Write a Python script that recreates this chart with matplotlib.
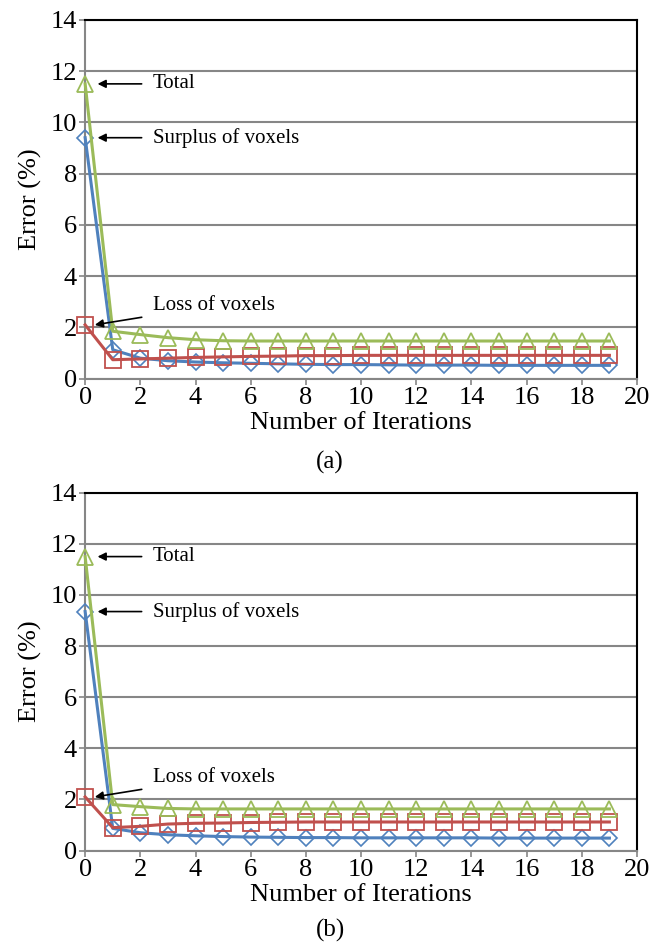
import matplotlib
matplotlib.use('Agg')
import matplotlib.pyplot as plt

# --- donnees ---
iterations = list(range(20))

# panneau (a)
total_a   = [11.5, 1.85, 1.72, 1.6, 1.52, 1.48, 1.47, 1.47, 1.47, 1.47,
             1.47, 1.47, 1.47, 1.47, 1.47, 1.47, 1.47, 1.47, 1.47, 1.47]
surplus_a = [9.4, 1.13, 0.8, 0.7, 0.65, 0.62, 0.6, 0.58, 0.56, 0.55,
             0.55, 0.54, 0.53, 0.53, 0.53, 0.52, 0.52, 0.52, 0.52, 0.52]
loss_a    = [2.1, 0.74, 0.77, 0.8, 0.83, 0.85, 0.87, 0.88, 0.9, 0.9,
             0.91, 0.91, 0.91, 0.91, 0.91, 0.91, 0.91, 0.91, 0.91, 0.91]

# panneau (b)
total_b   = [11.5, 1.8, 1.72, 1.65, 1.63, 1.63, 1.63, 1.63, 1.63, 1.63,
             1.63, 1.63, 1.63, 1.63, 1.63, 1.63, 1.63, 1.63, 1.63, 1.63]
surplus_b = [9.35, 0.87, 0.7, 0.62, 0.58, 0.55, 0.53, 0.52, 0.51, 0.51,
             0.5, 0.5, 0.5, 0.5, 0.5, 0.49, 0.49, 0.49, 0.49, 0.49]
loss_b    = [2.1, 0.9, 0.95, 1.04, 1.07, 1.08, 1.1, 1.11, 1.12, 1.12,
             1.12, 1.12, 1.12, 1.12, 1.12, 1.12, 1.12, 1.12, 1.12, 1.12]

panneaux = [('(a)', total_a, surplus_a, loss_a),
            ('(b)', total_b, surplus_b, loss_b)]

BLEU = '#4F81BD'
ROUGE = '#C0504D'
VERT = '#9BBB59'
GRIS = '#868686'

plt.rcParams['font.family'] = ['Liberation Serif', 'DejaVu Serif']

fig = plt.figure(figsize=(6.5, 9.42), dpi=100)
positions = [[0.131, 0.598, 0.849, 0.381], [0.131, 0.097, 0.849, 0.380]]
# position verticale (en pixels depuis le haut) des lettres (a), (b)
lettres_y = [462, 930]

for pos, ly, (lettre, total, surplus, loss) in zip(positions, lettres_y, panneaux):
    ax = fig.add_axes(pos)

    ax.plot(iterations, surplus, color=BLEU, lw=2.2, marker='D', ms=8,
            mfc='none', mec=BLEU, mew=1.2, zorder=3, clip_on=False)
    ax.plot(iterations, loss, color=ROUGE, lw=2.2, marker='s', ms=11,
            mfc='none', mec=ROUGE, mew=1.3, zorder=3, clip_on=False)
    ax.plot(iterations, total, color=VERT, lw=2.2, marker='^', ms=11,
            mfc='none', mec=VERT, mew=1.3, zorder=3, clip_on=False)

    ax.set_xlim(0, 20)
    ax.set_ylim(0, 14)
    ax.set_xticks(range(0, 21, 2))
    ax.set_yticks(range(0, 15, 2))
    ax.yaxis.grid(True, color=GRIS, lw=1.5)
    ax.set_axisbelow(True)

    for cote in ['left', 'bottom']:
        ax.spines[cote].set_color(GRIS)
        ax.spines[cote].set_linewidth(1.5)
    for cote in ['top', 'right']:
        ax.spines[cote].set_color('black')
        ax.spines[cote].set_linewidth(1.5)

    ax.tick_params(direction='out', length=4, width=1.2, color=GRIS,
                   labelsize=19, pad=2)
    ax.set_ylabel('Error (%)', fontsize=19, labelpad=6)
    ax.set_xlabel('Number of Iterations', fontsize=19, labelpad=2)
    fig.text(0.508, 1 - ly / 942, lettre, ha='center', va='center', fontsize=18)

    fleche = dict(arrowstyle='-|>', color='black', lw=1.2,
                  mutation_scale=12, shrinkA=6, shrinkB=0)
    ax.annotate('Total', xy=(0.45, total[0]), xytext=(2.45, total[0]),
                fontsize=15, va='center', arrowprops=fleche)
    ax.annotate('Surplus of voxels', xy=(0.45, surplus[0]),
                xytext=(2.45, surplus[0]), fontsize=15, va='center',
                arrowprops=fleche)
    ax.annotate('Loss of voxels', xy=(0.35, loss[0]), xytext=(2.45, 2.85),
                fontsize=15, va='center', arrowprops=fleche)

fig.savefig('out.png', dpi=100)
